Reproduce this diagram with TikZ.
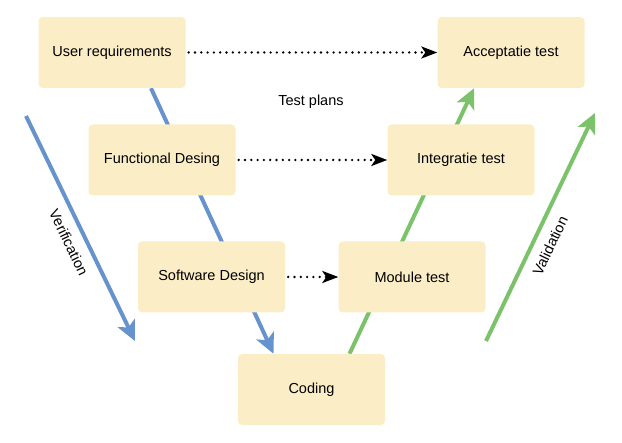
\documentclass[tikz,border=0pt]{standalone}
\usepackage{fontspec}
\setmainfont{Liberation Sans}
\usepackage{tikz}
\usetikzlibrary{arrows.meta, positioning}
\definecolor{fasegeel}{RGB}{251,238,198}
\definecolor{vblauw}{RGB}{102,146,206}
\definecolor{vgroen}{RGB}{124,194,106}
\pgfdeclarelayer{background}
\pgfsetlayers{background,main}
\tikzset
{
    fase/.style={rectangle, rounded corners=4pt, fill=fasegeel, minimum width=147pt, minimum height=71pt, font=\fontsize{14.5}{17}\selectfont}, % de blokken van het V-model
    testplan/.style={line width=2.6pt, dash pattern=on 0pt off 6.3pt, line cap=round, shorten <=3pt, -{Stealth[length=16pt, width=12pt, inset=4pt]}},
    vlijn/.style={line width=4pt, -{Stealth[length=20pt, width=19pt, inset=5pt]}},
}
\begin{document}
\begin{tikzpicture}[x=1pt, y=-1pt]
    \useasboundingbox (0,0) rectangle (622,443);

    % Fasen
    \node[fase] (ur) at (112,52.5) {User requirements};
    \node[fase] (at) at (511,52.5) {Acceptatie test};
    \node[fase] (fd) at (162,160) {Functional Desing};
    \node[fase] (it) at (461,160) {Integratie test};
    \node[fase] (sd) at (211.5,277) {Software Design};
    \node[fase] (mt) at (412,277) {Module test};
    \node[fase] (cod) at (311.5,389.5) {Coding};

    % Testplannen
    \draw[testplan] (ur) -- (at);
    \draw[testplan] (fd) -- (it);
    \draw[testplan] (sd) -- (mt);
    \node[font=\fontsize{14.5}{17}\selectfont] (tp) at (311,102) {Test plans};

    % V-lijnen achter de blokken
    \begin{pgfonlayer}{background}
        \draw[vlijn, vblauw] ([xshift=39pt]ur.south) -- ([xshift=-38pt]cod.north);
        \draw[vlijn, vgroen] ([xshift=38pt]cod.north) -- ([xshift=-37pt]at.south);
    \end{pgfonlayer}

    % Verificatie en validatie
    \coordinate (v1) at (26,116);
    \coordinate (v2) at (135,341);
    \coordinate (w1) at (486,341);
    \coordinate (w2) at (595,113);
    \draw[vlijn, vblauw] (v1) -- node[pos=0.53, sloped, below=6pt, text=black, font=\fontsize{14.5}{17}\selectfont] {Verification} (v2);
    \draw[vlijn, vgroen] (w1) -- node[pos=0.45, sloped, below=6pt, text=black, font=\fontsize{14.5}{17}\selectfont] {Validation} (w2);
\end{tikzpicture}
\end{document}
